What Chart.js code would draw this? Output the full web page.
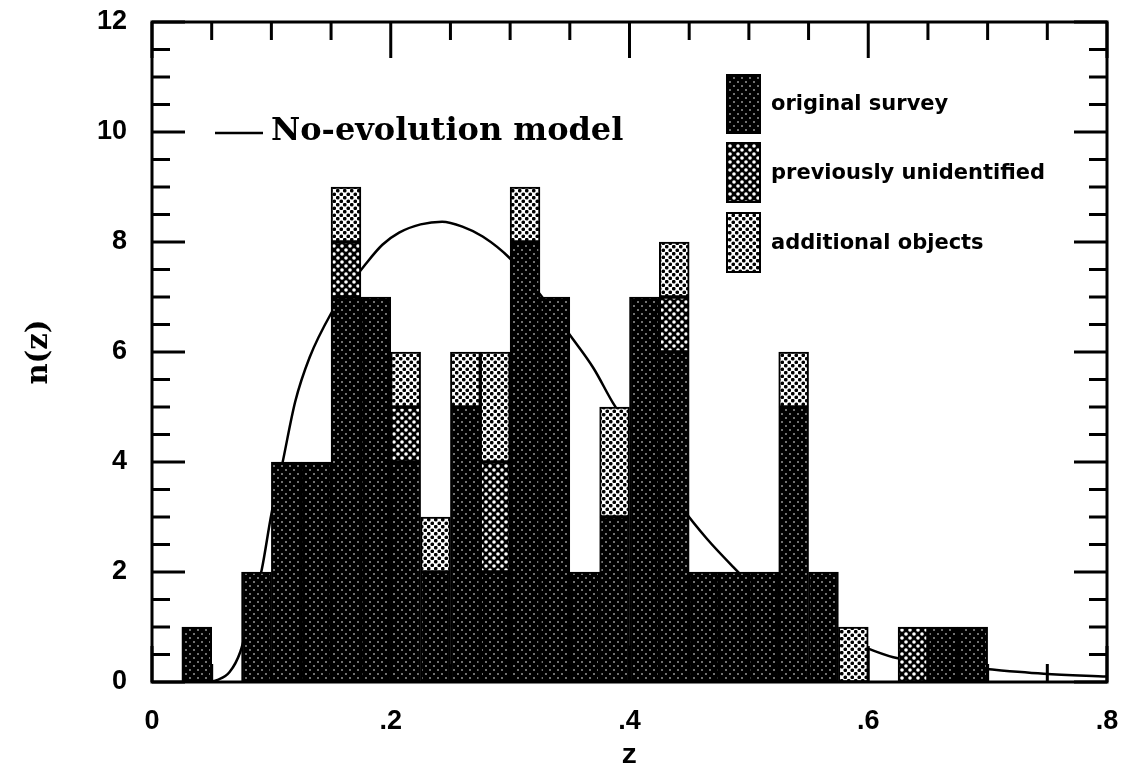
<!DOCTYPE html>
<html>
<head>
<meta charset="utf-8">
<script src="https://cdn.jsdelivr.net/npm/chart.js@4/dist/chart.umd.min.js"></script>
<style>
  html, body { margin: 0; padding: 0; background: #fff; }
  #wrap { width: 1124px; height: 773px; }
</style>
</head>
<body>
<div id="wrap"><canvas id="nz"></canvas></div>
<script>
// Redshift histogram, bins of 0.025 starting at these edges
const binStart = [0, 0.025, 0.05, 0.075, 0.1, 0.125, 0.15, 0.175, 0.2, 0.225, 0.25, 0.275,
  0.3, 0.325, 0.35, 0.375, 0.4, 0.425, 0.45, 0.475, 0.5, 0.525, 0.55, 0.575,
  0.6, 0.625, 0.65, 0.675, 0.7, 0.725, 0.75, 0.775];
const binWidth = 0.025;

const originalSurvey = [0, 1, 0, 2, 4, 4, 7, 7, 4, 2, 5, 2, 8, 7, 2, 3, 7, 6, 2, 2, 2, 5, 2, 0,
  0, 0, 1, 1, 0, 0, 0, 0];
const prevUnidentified = [0, 0, 0, 0, 0, 0, 1, 0, 1, 0, 0, 2, 0, 0, 0, 0, 0, 1, 0, 0, 0, 0, 0, 0,
  0, 1, 0, 0, 0, 0, 0, 0];
const additionalObjects = [0, 0, 0, 0, 0, 0, 1, 0, 1, 1, 1, 2, 1, 0, 0, 2, 0, 1, 0, 0, 0, 1, 0, 1,
  0, 0, 0, 0, 0, 0, 0, 0];

// No-evolution model curve
const modelZ = [0.045, 0.055, 0.065, 0.074, 0.083, 0.092, 0.1, 0.109, 0.12, 0.132, 0.15, 0.165,
  0.179, 0.193, 0.207, 0.225, 0.243, 0.26, 0.277, 0.3, 0.325, 0.351, 0.37, 0.386, 0.41, 0.425,
  0.445, 0.465, 0.487, 0.51, 0.54, 0.569, 0.595, 0.621, 0.66, 0.696, 0.747, 0.8];
const modelN = [0, 0.04, 0.18, 0.55, 1.3, 2.05, 3.05, 3.95, 5.1, 5.9, 6.7, 7.2,
  7.6, 7.95, 8.17, 8.32, 8.37, 8.28, 8.1, 7.7, 7.05, 6.28, 5.7, 5.08, 4.3, 3.8,
  3.14, 2.6, 2.09, 1.6, 1.2, 0.9, 0.65, 0.45, 0.32, 0.24, 0.15, 0.1];

const xTickLabels = ['0', '.2', '.4', '.6', '.8'];
const yTickLabels = ['0', '2', '4', '6', '8', '10', '12'];
const legendNames = ['original survey', 'previously unidentified', 'additional objects'];

// halftone fills: dots in a diagonal lattice
function halftone(size, r, ground, ink) {
  const c = document.createElement('canvas');
  c.width = c.height = size;
  const g = c.getContext('2d');
  g.fillStyle = ground;
  g.fillRect(0, 0, size, size);
  g.fillStyle = ink;
  const h = size / 2;
  [[h / 2, h / 2], [h * 1.5, h * 1.5]].forEach(([x, y]) => {
    g.beginPath(); g.arc(x, y, r, 0, Math.PI * 2); g.fill();
  });
  return g.createPattern(c, 'repeat');
}
const fillOriginal = halftone(8, 0.8, '#000', '#fff');
const fillPrev = halftone(8, 1.8, '#000', '#fff');
const fillAdd = halftone(7, 1.85, '#fff', '#000');

const toPoints = arr => binStart.map((b, i) => ({ x: b + binWidth / 2, y: arr[i] || null }));

function barSet(label, arr, fill) {
  return {
    type: 'bar', label, data: toPoints(arr), stack: 'hist',
    backgroundColor: fill, borderColor: '#000', borderWidth: 2, borderSkipped: false,
    barPercentage: 1, categoryPercentage: 1, order: 1
  };
}

// inward ticks on all four sides, frame and the in-plot key
const frameAndKey = {
  id: 'frameAndKey',
  beforeDatasetsDraw(chart) {
    const { ctx, chartArea: a, scales: { x, y } } = chart;
    ctx.save();
    ctx.strokeStyle = '#000';
    ctx.lineWidth = 3;
    ctx.beginPath();
    for (let v = 0; v <= 12.001; v += 0.5) {
      const py = y.getPixelForValue(v);
      const len = Math.abs(v % 2) < 0.01 ? 33 : 18;
      ctx.moveTo(a.left, py); ctx.lineTo(a.left + len, py);
      ctx.moveTo(a.right, py); ctx.lineTo(a.right - len, py);
    }
    for (let v = 0; v <= 0.8001; v += 0.05) {
      const px = x.getPixelForValue(v);
      const len = Math.abs(v / 0.2 - Math.round(v / 0.2)) < 0.01 ? 36 : 18;
      ctx.moveTo(px, a.top); ctx.lineTo(px, a.top + len);
      ctx.moveTo(px, a.bottom); ctx.lineTo(px, a.bottom - len);
    }
    ctx.stroke();
    ctx.restore();
  },
  afterDraw(chart) {
    const { ctx, chartArea: a } = chart;
    ctx.save();
    ctx.strokeStyle = '#000';
    ctx.lineWidth = 3;
    ctx.strokeRect(a.left, a.top, a.right - a.left, a.bottom - a.top);

    // model line key
    ctx.lineWidth = 2.5;
    ctx.beginPath(); ctx.moveTo(215, 133); ctx.lineTo(263, 133); ctx.stroke();
    ctx.fillStyle = '#000';
    ctx.font = 'bold 32px "DejaVu Serif"';
    ctx.textBaseline = 'middle';
    ctx.fillText('No-evolution model', 271, 132);

    // histogram keys
    const fills = [fillOriginal, fillPrev, fillAdd];
    const boxes = [[75, 58], [143, 59], [213, 59]];
    ctx.font = 'bold 21px "DejaVu Sans"';
    boxes.forEach(([top, h], i) => {
      ctx.fillStyle = fills[i];
      ctx.fillRect(727, top, 33, h);
      ctx.lineWidth = 2;
      ctx.strokeRect(727, top, 33, h);
      ctx.fillStyle = '#000';
      ctx.fillText(legendNames[i], 771, top + h / 2 + 1);
    });
    ctx.restore();
  }
};

new Chart(document.getElementById('nz'), {
  data: {
    datasets: [
      barSet('original survey', originalSurvey, fillOriginal),
      barSet('previously unidentified', prevUnidentified, fillPrev),
      barSet('additional objects', additionalObjects, fillAdd),
      {
        // drawn first, so the bars sit over the curve
        type: 'line', label: 'No-evolution model', stack: 'model', order: 5,
        data: modelZ.map((z, i) => ({ x: z, y: modelN[i] })),
        borderColor: '#000', borderWidth: 2.5, pointRadius: 0,
        cubicInterpolationMode: 'monotone', fill: false
      }
    ]
  },
  options: {
    responsive: true,
    maintainAspectRatio: false,
    animation: false,
    layout: { padding: { top: 22, right: 17, left: 0, bottom: 0 } },
    plugins: { legend: { display: false }, tooltip: { enabled: false } },
    scales: {
      x: {
        type: 'linear', min: 0, max: 0.8, offset: false,
        grid: { display: false }, border: { display: false },
        afterFit: s => { s.height = 91; s.paddingLeft = 0; s.paddingRight = 0; },
        ticks: {
          stepSize: 0.2, autoSkip: false, maxRotation: 0, padding: 15, color: '#000',
          font: { family: '"Liberation Sans"', size: 27, weight: 'bold' },
          callback: (v) => xTickLabels[Math.round(v / 0.2)]
        },
        title: {
          display: true, text: 'z', color: '#000', padding: { top: 6, bottom: 0 },
          font: { family: '"Liberation Mono"', size: 28, weight: 'bold' }
        }
      },
      y: {
        stacked: true, min: 0, max: 12,
        grid: { display: false }, border: { display: false },
        afterFit: s => { s.width = 152; s.paddingTop = 0; s.paddingBottom = 0; },
        ticks: {
          stepSize: 2, padding: 17, color: '#000',
          font: { family: '"Liberation Sans"', size: 27, weight: 'bold' },
          callback: (v) => yTickLabels[Math.round(v / 2)]
        },
        title: {
          display: true, text: 'n(z)', color: '#000', padding: { top: 22, bottom: 0 },
          font: { family: '"DejaVu Serif"', size: 29, weight: 'bold' }
        }
      }
    }
  },
  plugins: [frameAndKey]
});
</script>
</body>
</html>
